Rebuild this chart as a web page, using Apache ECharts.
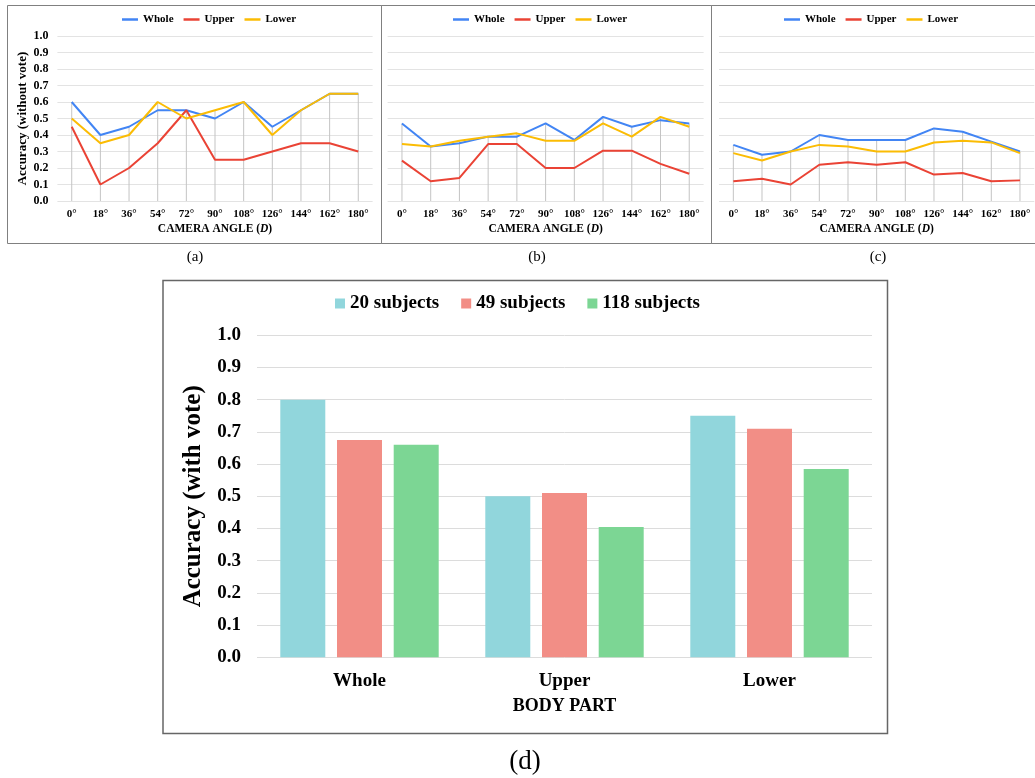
<!DOCTYPE html>
<html><head><meta charset="utf-8">
<script src="https://cdn.jsdelivr.net/npm/echarts@6/dist/echarts.min.js"></script>
<style>html,body{margin:0;padding:0;background:#fff;}#c{width:1035px;height:778px;}</style>
</head><body><div id="c"></div>
<script>
var angles = ['0°','18°','36°','54°','72°','90°','108°','126°','144°','162°','180°'];
var yTicks = [0,0.1,0.2,0.3,0.4,0.5,0.6,0.7,0.8,0.9,1.0];
// (a)
var aWhole = [0.60,0.40,0.45,0.55,0.55,0.50,0.60,0.45,0.55,0.65,0.65];
var aUpper = [0.45,0.10,0.20,0.35,0.55,0.25,0.25,0.30,0.35,0.35,0.30];
var aLower = [0.50,0.35,0.40,0.60,0.50,0.55,0.60,0.40,0.55,0.65,0.65];
// (b)
var bWhole = [0.47,0.33,0.35,0.39,0.39,0.47,0.37,0.51,0.45,0.49,0.47];
var bUpper = [0.245,0.12,0.14,0.345,0.345,0.20,0.20,0.305,0.305,0.225,0.165];
var bLower = [0.345,0.33,0.365,0.39,0.41,0.365,0.365,0.47,0.39,0.51,0.45];
// (c)
var cWhole = [0.34,0.28,0.30,0.40,0.37,0.37,0.37,0.44,0.42,0.36,0.30];
var cUpper = [0.12,0.135,0.10,0.22,0.235,0.22,0.235,0.16,0.17,0.12,0.125];
var cLower = [0.29,0.245,0.30,0.34,0.33,0.30,0.30,0.355,0.365,0.355,0.29];
// (d)
var parts = ['Whole','Upper','Lower'];
var subj20 = [0.80,0.50,0.75];
var subj49 = [0.675,0.51,0.71];
var subj118 = [0.66,0.405,0.585];

var FONT = 'Liberation Serif';
var cWhl = '#4285F4', cUpp = '#EA4335', cLow = '#FBBC04';

function maxOf(a,b,c){ return a.map(function(v,i){ return Math.max(v,b[i],c[i]); }); }

var grids = [
  {left:57.4, top:36, width:315.2, height:165},
  {left:387.6, top:36, width:316, height:165},
  {left:719, top:36, width:315.3, height:165},
  {left:257, top:335.3, width:615, height:322}
];

var xAxes = [], yAxes = [];
for (var g=0; g<3; g++) {
  xAxes.push({
    gridIndex:g, type:'category', data:angles, boundaryGap:true,
    axisLine:{show:false}, axisTick:{show:false},
    axisLabel:{interval:0, fontFamily:FONT, fontWeight:'bold', fontSize:11, color:'#000', margin:8},
    name:'CAMERA ANGLE ({i|D})', nameLocation:'middle', nameGap:22,
    nameTextStyle:{fontFamily:FONT, fontWeight:'bold', fontSize:11.5, color:'#000',
      rich:{i:{fontFamily:FONT, fontWeight:'bold', fontStyle:'italic', fontSize:11.5, color:'#000'}}}
  });
  yAxes.push({
    gridIndex:g, type:'value', min:0, max:1, interval:0.1,
    axisLine:{show:false}, axisTick:{show:false},
    splitLine:{lineStyle:{color:'#e3e3e3', width:1}},
    axisLabel:{show:g===0, fontFamily:FONT, fontWeight:'bold', fontSize:12, color:'#000', margin:9,
      formatter:function(v){return v.toFixed(1);}},
    name: g===0 ? 'Accuracy (without vote)' : '', nameLocation:'middle', nameGap:23,
    nameTextStyle:{fontFamily:FONT, fontWeight:'bold', fontSize:13, color:'#000'}
  });
}
xAxes.push({
  gridIndex:3, type:'category', data:parts,
  axisLine:{show:false}, axisTick:{show:false},
  axisLabel:{fontFamily:FONT, fontWeight:'bold', fontSize:19, color:'#000', margin:14},
  name:'BODY PART', nameLocation:'middle', nameGap:40,
  nameTextStyle:{fontFamily:FONT, fontWeight:'bold', fontSize:18, color:'#000'}
});
yAxes.push({
  gridIndex:3, type:'value', min:0, max:1, interval:0.1,
  axisLine:{show:false}, axisTick:{show:false},
  splitLine:{lineStyle:{color:'#dcdcdc', width:1}},
  axisLabel:{fontFamily:FONT, fontWeight:'bold', fontSize:19, color:'#000', margin:16,
    formatter:function(v){return v.toFixed(1);}},
  name:'Accuracy (with vote)', nameLocation:'middle', nameGap:47,
  nameTextStyle:{fontFamily:FONT, fontWeight:'bold', fontSize:25, color:'#000'}
});

var sets = [[aWhole,aUpper,aLower],[bWhole,bUpper,bLower],[cWhole,cUpper,cLower]];
var series = [];
sets.forEach(function(s, g){
  series.push({type:'bar', xAxisIndex:g, yAxisIndex:g, barWidth:1, z:1,
    itemStyle:{color:'#c4c4c4'}, silent:true, data:maxOf(s[0],s[1],s[2])});
  [['Whole',cWhl,s[0]],['Upper',cUpp,s[1]],['Lower',cLow,s[2]]].forEach(function(d){
    series.push({type:'line', name:d[0], xAxisIndex:g, yAxisIndex:g, data:d[2], z:3,
      showSymbol:false, symbol:'none', lineStyle:{color:d[1], width:2}, itemStyle:{color:d[1]}});
  });
});
[['20 subjects','#91D6DC',subj20],['49 subjects','#F28E86',subj49],['118 subjects','#7CD694',subj118]].forEach(function(d){
  series.push({type:'bar', name:d[0], xAxisIndex:3, yAxisIndex:3, data:d[2],
    barWidth:45, barGap:'26%', itemStyle:{color:d[1]}});
});

var lineLegend = function(cx){
  return {data:['Whole','Upper','Lower'], left:cx, top:9, icon:'rect', itemWidth:16, itemHeight:2.5,
    itemGap:10, textStyle:{fontFamily:FONT, fontWeight:'bold', fontSize:11, color:'#000'}, selectedMode:false};
};

var graphic = [
  {type:'rect', shape:{x:7.5,y:5.5,width:374,height:238}, style:{fill:'none', stroke:'#808080', lineWidth:1}},
  {type:'rect', shape:{x:381.5,y:5.5,width:330,height:238}, style:{fill:'none', stroke:'#808080', lineWidth:1}},
  {type:'rect', shape:{x:711.5,y:5.5,width:340,height:238}, style:{fill:'none', stroke:'#808080', lineWidth:1}},
  {type:'rect', shape:{x:163,y:280.5,width:724.5,height:453}, style:{fill:'none', stroke:'#666', lineWidth:1.5}},
  {type:'text', x:195, y:257, style:{text:'(a)', font:'15px "Liberation Serif"', fill:'#000', align:'center', verticalAlign:'middle'}},
  {type:'text', x:537, y:257, style:{text:'(b)', font:'15px "Liberation Serif"', fill:'#000', align:'center', verticalAlign:'middle'}},
  {type:'text', x:878, y:257, style:{text:'(c)', font:'15px "Liberation Serif"', fill:'#000', align:'center', verticalAlign:'middle'}},
  {type:'text', x:525, y:762, style:{text:'(d)', font:'27px "Liberation Serif"', fill:'#000', align:'center', verticalAlign:'middle'}}
];

var chart = echarts.init(document.getElementById('c'), null, {renderer:'canvas'});
chart.setOption({
  animation:false,
  backgroundColor:'#fff',
  grid:grids, xAxis:xAxes, yAxis:yAxes, series:series,
  legend:[
    lineLegend(117), lineLegend(448), lineLegend(779),
    {data:['20 subjects','49 subjects','118 subjects'], left:'center', top:289, icon:'rect',
      itemWidth:10, itemHeight:10, itemGap:22, selectedMode:false,
      textStyle:{fontFamily:FONT, fontWeight:'bold', fontSize:19, color:'#000'}}
  ],
  graphic:graphic
});
</script></body></html>
